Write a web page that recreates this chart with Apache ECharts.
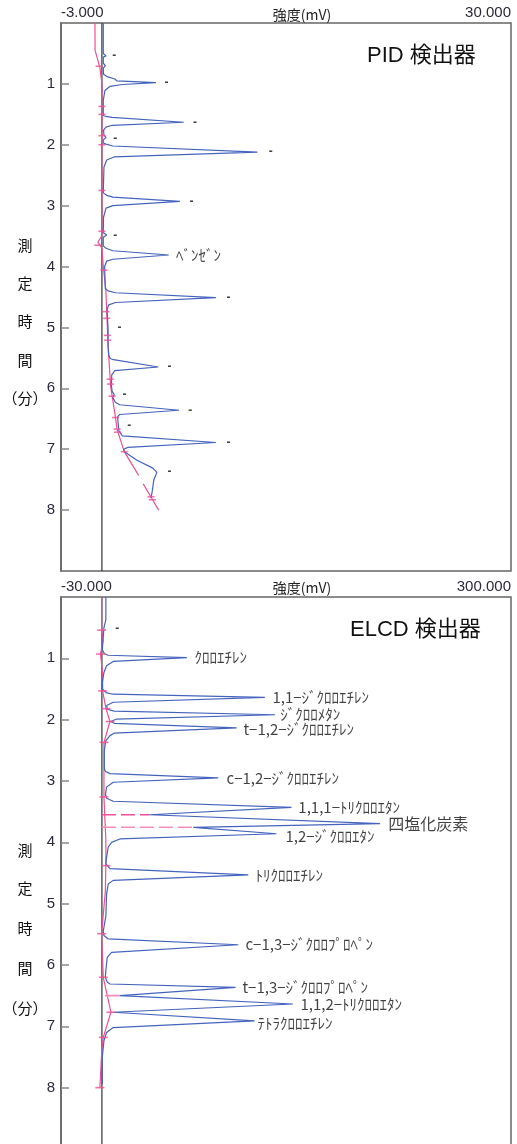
<!DOCTYPE html>
<html><head><meta charset="utf-8">
<script src="https://cdn.jsdelivr.net/npm/echarts@6/dist/echarts.min.js"></script>
<style>html,body{margin:0;padding:0;background:#fff}#c{width:517px;height:1144px}</style>
</head><body><div id="c"></div>
<script>
// ---- tick labels / ranges ----
const timeTicks = [1, 2, 3, 4, 5, 6, 7, 8];
const pidRange = [-3, 30];
const elcdRange = [-30, 300];

// ---- PID detector: trace [mV, min] ----
const pidTrace = [
  [0.1,0.0],[0.1,0.50],[0.3,0.54],[0.1,0.56],[0.1,0.66],[0.25,0.70],[0.1,0.74],[0.12,0.84],
  [0.37,0.88],[0.95,0.92],[1.1,0.95],[3.96,0.98],[1.5,1.01],[0.6,1.04],[0.22,1.11],[0.1,1.27],
  [0.1,1.52],[0.3,1.535],[0.75,1.55],[6.0,1.63],[0.75,1.68],[0.3,1.71],[0.12,1.76],
  [0.15,1.84],[0.3,1.88],[0.1,1.92],
  [0.1,1.97],[0.3,1.99],[0.8,2.02],[11.4,2.12],[0.9,2.20],[0.35,2.25],[0.15,2.37],
  [0.1,2.79],[0.35,2.83],[0.8,2.86],[5.72,2.93],[0.8,3.0],[0.3,3.04],[0.12,3.19],
  [0.1,3.44],[0.35,3.48],[0.1,3.52],
  [0.1,3.66],[0.3,3.70],[0.8,3.74],[4.9,3.81],[0.8,3.88],[0.35,3.91],[0.2,4.0],
  [0.25,4.36],[0.45,4.40],[1.0,4.43],[8.36,4.51],[1.0,4.59],[0.5,4.63],[0.38,4.70],
  [0.42,4.9],[0.45,5.0],[0.45,5.3],
  [0.5,5.45],[0.6,5.51],[0.85,5.53],[4.13,5.65],[0.95,5.71],[0.72,5.78],[0.7,5.96],
  [0.75,6.05],[0.9,6.10],[0.8,6.15],
  [0.85,6.18],[0.98,6.23],[1.3,6.27],[5.65,6.36],[1.3,6.43],[1.15,6.47],[1.2,6.6],[1.25,6.7],
  [1.25,6.73],[1.5,6.78],[8.36,6.89],[1.9,6.97],[1.6,7.0],[1.65,7.04],
  [2.57,7.18],[3.74,7.31],[4.03,7.38],[3.81,7.50],[3.67,7.72],[3.59,7.80]
];
const pidBaseA = [[-0.51,0],[-0.5,0.45],[-0.15,0.73],[0,1.0],[0,3.49],[-0.3,3.6],[0,3.7],[0.1,4.0],
  [0.29,4.39],[0.46,5.32],[0.64,5.97],[0.95,6.41],[1.12,6.68],[1.64,7.04],[2.69,7.43]];
const pidBaseB = [[3.03,7.57],[3.59,7.78],[4.16,8.0]];
const pidTicks = [[-0.2,0.71],[0,1.37],[0,1.5],[0,1.85],[0,2.0],[0,2.75],[0,3.42],[-0.3,3.65],[0.15,4.06],
  [0.3,4.74],[0.35,4.85],[0.4,5.13],[0.42,5.21],[0.6,5.85],[0.62,5.93],[0.75,6.13],[1.0,6.48],
  [1.12,6.67],[1.15,6.72],[1.64,7.04],[3.6,7.78],[3.7,7.83]];
const pidMarks = [[0.73,0.54,'-'],[4.55,0.98,'-'],[6.65,1.63,'-'],[0.8,1.90,'-'],[12.2,2.12,'-'],
  [6.38,2.93,'-'],[0.8,3.49,'-'],[5.4,3.81,'ﾍﾞﾝｾﾞﾝ'],[9.1,4.51,'-'],[1.1,5.01,'-'],[4.77,5.65,'-'],
  [1.47,6.11,'-'],[6.3,6.36,'-'],[1.83,6.62,'-'],[9.1,6.89,'-'],[4.77,7.37,'-']];

// ---- ELCD detector ----
const elcdTrace = [
  [2.9,0.0],[2.9,0.37],[1.5,0.39],[1.5,0.50],[0.3,0.52],[0.3,0.86],
  [0.5,0.89],[1.8,0.92],[4.5,0.95],[62.3,0.99],[8.3,1.05],[3.4,1.12],[1.5,1.23],[0.4,1.38],[0.4,1.50],
  [1.2,1.53],[3.0,1.56],[8,1.585],[119.5,1.635],[8.3,1.716],[3.5,1.77],[2.5,1.80],
  [4,1.83],[9,1.86],[127,1.92],[10.8,1.99],[6.5,2.03],
  [9,2.06],[98.8,2.135],[9,2.22],[5.9,2.26],[2.9,2.34],[1.8,2.50],[1.8,2.80],
  [2.5,2.84],[5.9,2.88],[85.3,2.95],[8.3,3.02],[3.4,3.10],[2.6,3.22],
  [3.4,3.28],[8.3,3.33],[139,3.43],[35,3.55],
  [204,3.695],[67,3.755],
  [128,3.86],[13.2,3.945],[7.1,4.0],[4.6,4.08],[3.4,4.25],[2.9,4.35],
  [5.9,4.43],[107.3,4.53],[8.3,4.62],[4.6,4.68],[3.4,4.85],[2.9,5.2],[1.0,5.45],
  [1.5,5.52],[4.6,5.575],[100,5.67],[7.1,5.795],[3.9,5.875],[2.9,6.09],[2.5,6.2],
  [4,6.28],[5.9,6.31],[98,6.365],[13.2,6.50],
  [140,6.636],[8.3,6.77],
  [112,6.91],[8.3,7.02],[3.4,7.10],[1.5,7.235],[0.3,7.5],[0.3,7.95]
];
const elcdBase = [[-0.2,0],[-0.2,0.54],[0.8,0.71],[-1,0.93],[0.5,1.25],[0.5,1.53],[3,1.82],[5.9,2.03],
  [1.5,2.37],[1.5,3.26],[2.9,3.97],[2.9,4.38],[2.5,4.8],[-0.2,5.49],[1,6.2],[6.6,6.77],[1,7.18],[0,7.36],[-1.5,8.0]];
const elcdDashA = [[0,3.55],[35,3.55]];
const elcdDashB = [[0,3.755],[67,3.755]];
const elcdCut = [[2.2,6.5],[13.2,6.5]];
const elcdTicks = [[-0.2,0.54],[-1,0.93],[0.5,1.53],[3,1.82],[5.9,2.03],[1.5,2.37],[1.5,3.26],
  [2.9,4.38],[-0.2,5.49],[1,6.2],[6.6,6.77],[1,7.18],[-1.5,8.0]];
const elcdMarks = [[9.5,0.52,'-'],[67.5,0.99,'ｸﾛﾛｴﾁﾚﾝ'],[124.7,1.635,'1,1−ｼﾞｸﾛﾛｴﾁﾚﾝ'],[130.5,1.905,'ｼﾞｸﾛﾛﾒﾀﾝ'],
  [103.4,2.15,'t−1,2−ｼﾞｸﾛﾛｴﾁﾚﾝ'],[91,2.95,'c−1,2−ｼﾞｸﾛﾛｴﾁﾚﾝ'],[143.7,3.43,'1,1,1−ﾄﾘｸﾛﾛｴﾀﾝ'],
  [209.7,3.70,'四塩化炭素'],[134.2,3.90,'1,2−ｼﾞｸﾛﾛｴﾀﾝ'],[112.2,4.53,'ﾄﾘｸﾛﾛｴﾁﾚﾝ'],
  [104.9,5.67,'c−1,3−ｼﾞｸﾛﾛﾌﾟﾛﾍﾟﾝ'],[102.7,6.365,'t−1,3−ｼﾞｸﾛﾛﾌﾟﾛﾍﾟﾝ'],[145.2,6.635,'1,1,2−ﾄﾘｸﾛﾛｴﾀﾝ'],
  [113.7,6.95,'ﾃﾄﾗｸﾛﾛｴﾁﾚﾝ']];

// ---- styling ----
const BLUE = '#4563bd', PINK = '#ef4f96', PINK_L = '#f48dbb', ZERO = '#333';
const JP = '"Noto Sans CJK JP", "Noto Sans", sans-serif';
const NUM = '"Liberation Sans", Arial, sans-serif';
const MIX = '"Liberation Sans", "Noto Sans CJK JP", sans-serif';

function xAxisFor(gi, range) {
  return {
    gridIndex: gi, type: 'value', position: 'top', min: range[0], max: range[1],
    axisLine: {show: false, onZero: false}, axisTick: {show: false}, splitLine: {show: false},
    axisLabel: {customValues: range, alignMinLabel: 'left', alignMaxLabel: 'right', margin: 3,
      fontFamily: NUM, fontSize: 15, color: '#2a2a3a', formatter: v => v.toFixed(3)}
  };
}
function yAxisFor(gi) {
  return {
    gridIndex: gi, type: 'value', inverse: true, min: 0, max: 9,
    axisLine: {show: true, onZero: false, lineStyle: {color: '#666', width: 1.5}}, splitLine: {show: false},
    axisTick: {show: true, inside: true, length: 8, customValues: timeTicks, lineStyle: {color: '#888', width: 1.5}},
    axisLabel: {customValues: timeTicks, margin: 6, fontFamily: NUM, fontSize: 15, color: '#2a2a3a'}
  };
}
function line(gi, data, color, width, type, z) {
  return {type: 'line', xAxisIndex: gi, yAxisIndex: gi, data: data, showSymbol: false, symbol: 'none',
    silent: true, animation: false, z: z || 2,
    lineStyle: {color: color, width: width, type: type || 'solid'}};
}
function ticks(gi, data, w) {
  return {type: 'scatter', xAxisIndex: gi, yAxisIndex: gi, data: data, symbol: 'rect',
    symbolSize: [w, 1.6], itemStyle: {color: PINK}, silent: true, animation: false, z: 4};
}
function marks(gi, arr) {
  return {type: 'scatter', xAxisIndex: gi, yAxisIndex: gi, symbolSize: 1, silent: true, animation: false, z: 5,
    itemStyle: {color: 'rgba(0,0,0,0)'},
    data: arr.map(m => ({value: [m[0], m[1]], name: m[2],
      label: m[2] === '四塩化炭素' ? {fontSize: 16} : (m[2] === '-' ? {fontFamily: NUM, fontSize: 12, fontWeight: 'bold'} : {})})),
    label: {show: true, position: 'right', distance: 0, formatter: p => p.name,
      fontFamily: JP, fontSize: 15, color: '#111'}};
}
function zero(gi) { return line(gi, [[0,0],[0,9]], ZERO, 1.2, 'solid', 1); }

const titleChars = ['測','定','時','間','（分）'];
const graphics = [];
[[245,283,321,360,398],[850,888,928,968,1008]].forEach(ys => {
  ys.forEach((y, i) => graphics.push({type: 'text', x: 25, y: y,
    style: {text: titleChars[i], fontFamily: JP, fontSize: 15, fill: '#111', align: 'center', verticalAlign: 'middle'}}));
});
[15, 588].forEach(y => graphics.push({type: 'text', x: 302, y: y,
  style: {text: '強度(mV)', fontFamily: JP, fontSize: 14, fill: '#222', align: 'center', verticalAlign: 'middle'}}));
graphics.push({type: 'text', x: 367, y: 56, style: {text: 'PID 検出器', fontFamily: MIX, fontSize: 22, fill: '#111', verticalAlign: 'middle'}});
graphics.push({type: 'text', x: 350, y: 630, style: {text: 'ELCD 検出器', fontFamily: MIX, fontSize: 22, fill: '#111', verticalAlign: 'middle'}});

const chart = echarts.init(document.getElementById('c'), null, {renderer: 'canvas'});
chart.setOption({
  backgroundColor: '#fff',
  animation: false,
  grid: [
    {left: 61, top: 23, width: 450, height: 548, show: true, borderColor: '#666', borderWidth: 1.5,
     backgroundColor: 'transparent', outerBoundsMode: 'none', containLabel: false},
    {left: 61, top: 597, width: 450, height: 552, show: true, borderColor: '#666', borderWidth: 1.5,
     backgroundColor: 'transparent', outerBoundsMode: 'none', containLabel: false}
  ],
  xAxis: [xAxisFor(0, pidRange), xAxisFor(1, elcdRange)],
  yAxis: [yAxisFor(0), yAxisFor(1)],
  graphic: graphics,
  series: [
    zero(0),
    line(0, pidBaseA, PINK, 1.2, 'solid', 2),
    line(0, pidBaseB, PINK, 1.2, 'solid', 2),
    line(0, pidTrace, BLUE, 1.2, 'solid', 3),
    ticks(0, pidTicks, 7),
    marks(0, pidMarks),
    zero(1),
    line(1, elcdBase, PINK, 1.2, 'solid', 2),
    line(1, elcdDashA, PINK, 1.4, [14,5], 2),
    line(1, elcdDashB, PINK_L, 1.6, [14,5], 2),
    line(1, elcdCut, PINK_L, 1.6, 'solid', 2),
    line(1, elcdTrace, BLUE, 1.2, 'solid', 3),
    ticks(1, elcdTicks, 9),
    marks(1, elcdMarks)
  ]
});
</script></body></html>
